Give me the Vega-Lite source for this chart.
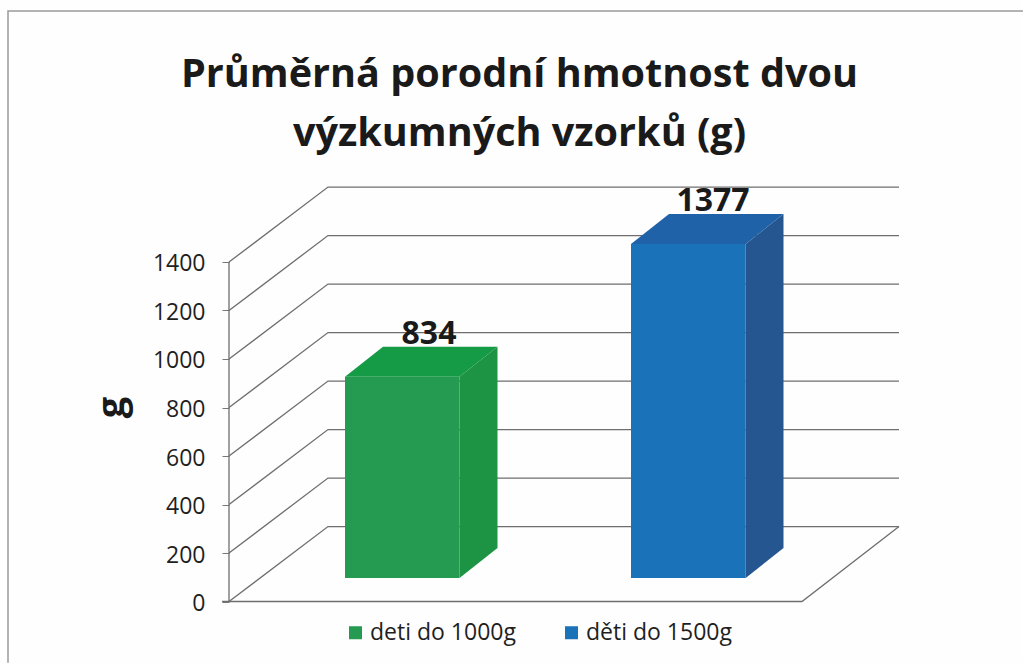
{"$schema":"https://vega.github.io/schema/vega-lite/v6.json","width":1023,"height":663,"padding":0,"autosize":{"type":"none"},"background":"#fefefe","config":{"view":{"stroke":null},"font":"Open Sans"},"title":{"text":["Průměrná porodní hmotnost dvou","výzkumných vzorků (g)"],"orient":"top","anchor":"middle","frame":"group","offset":-186,"dx":8,"fontSize":39.6,"fontWeight":"bold","font":"Open Sans","color":"#1a1a1a","lineHeight":59,"baseline":"alphabetic"},"datasets":{"frame":[{"id":"frame","x":8,"v":-253},{"id":"frame","x":8,"v":2435},{"id":"frame","x":1023,"v":2435}],"grid":[{"id":"axis","x":229,"v":0},{"id":"axis","x":229,"v":1400},{"id":"base","x":222,"v":0},{"id":"base","x":802,"v":0},{"id":"base","x":899,"v":309},{"id":"g0","x":229,"v":0},{"id":"g0","x":328,"v":309},{"id":"g0","x":899,"v":309},{"id":"g200","x":229,"v":200},{"id":"g200","x":328,"v":509},{"id":"g200","x":899,"v":509},{"id":"g400","x":229,"v":400},{"id":"g400","x":328,"v":709},{"id":"g400","x":899,"v":709},{"id":"g600","x":229,"v":600},{"id":"g600","x":328,"v":909},{"id":"g600","x":899,"v":909},{"id":"g800","x":229,"v":800},{"id":"g800","x":328,"v":1109},{"id":"g800","x":899,"v":1109},{"id":"g1000","x":229,"v":1000},{"id":"g1000","x":328,"v":1309},{"id":"g1000","x":899,"v":1309},{"id":"g1200","x":229,"v":1200},{"id":"g1200","x":328,"v":1509},{"id":"g1200","x":899,"v":1509},{"id":"g1400","x":229,"v":1400},{"id":"g1400","x":328,"v":1709},{"id":"g1400","x":899,"v":1709}],"front":[{"series":"deti do 1000g","x":345,"x2":459.5,"base":97,"top":927},{"series":"děti do 1500g","x":631,"x2":745.7,"base":97,"top":1474}],"topFace":[{"series":"deti do 1000g","x":345,"y":927,"y2":927},{"series":"deti do 1000g","x":383,"y":927,"y2":1051},{"series":"deti do 1000g","x":459.5,"y":927,"y2":1051},{"series":"deti do 1000g","x":497.5,"y":1051,"y2":1051},{"series":"děti do 1500g","x":631,"y":1474,"y2":1474},{"series":"děti do 1500g","x":669,"y":1474,"y2":1598},{"series":"děti do 1500g","x":745.7,"y":1474,"y2":1598},{"series":"děti do 1500g","x":783.5,"y":1598,"y2":1598}],"sideFace":[{"series":"deti do 1000g","x":459.5,"y":97,"y2":927},{"series":"deti do 1000g","x":497.5,"y":221,"y2":1051},{"series":"děti do 1500g","x":745.7,"y":97,"y2":1474},{"series":"děti do 1500g","x":783.5,"y":221,"y2":1598}],"labels":[{"series":"deti do 1000g","value":834,"x":429,"y":1062},{"series":"děti do 1500g","value":1377,"x":713,"y":1610}]},"encoding":{"x":{"type":"quantitative","scale":{"domain":[0,1023],"nice":false,"zero":false},"axis":null},"y":{"type":"quantitative","scale":{"domain":[-253.6,2480.4],"nice":false,"zero":false}}},"layer":[{"data":{"name":"frame"},"mark":{"type":"line","stroke":"#9a9a9a","strokeWidth":1.5,"clip":false},"encoding":{"x":{"field":"x","type":"quantitative"},"y":{"field":"v","type":"quantitative","axis":{"values":[0,200,400,600,800,1000,1200,1400],"format":"d","title":"g","titleFontSize":38,"titleFontWeight":"bold","titleColor":"#1a1a1a","titleX":-98,"titleY":407,"titleFont":"Open Sans","offset":-229,"domain":false,"grid":false,"ticks":true,"tickSize":7,"tickColor":"#777","labelFont":"Open Sans","labelFontSize":23,"labelColor":"#1f1f1f","labelPadding":17,"labelOffset":2}},"detail":{"field":"id"}}},{"data":{"name":"grid"},"mark":{"type":"line","stroke":"#6e6e6e","strokeWidth":1.3},"encoding":{"x":{"field":"x","type":"quantitative"},"y":{"field":"v","type":"quantitative"},"detail":{"field":"id"}}},{"data":{"name":"topFace"},"mark":{"type":"area"},"encoding":{"x":{"field":"x","type":"quantitative"},"y":{"field":"y","type":"quantitative"},"y2":{"field":"y2"},"detail":{"field":"series"},"color":{"condition":{"test":"datum.series==='deti do 1000g'","value":"#159a45"},"value":"#1f62a8"}}},{"data":{"name":"sideFace"},"mark":{"type":"area"},"encoding":{"x":{"field":"x","type":"quantitative"},"y":{"field":"y","type":"quantitative"},"y2":{"field":"y2"},"detail":{"field":"series"},"color":{"condition":{"test":"datum.series==='deti do 1000g'","value":"#1c9444"},"value":"#26568f"}}},{"data":{"name":"front"},"mark":{"type":"rect"},"encoding":{"x":{"field":"x","type":"quantitative"},"x2":{"field":"x2"},"y":{"field":"base","type":"quantitative"},"y2":{"field":"top"},"color":{"field":"series","type":"nominal","scale":{"domain":["deti do 1000g","děti do 1500g"],"range":["#249b50","#1a72b8"]},"legend":{"title":null,"orient":"none","legendX":344,"legendY":621,"direction":"horizontal","columns":2,"columnPadding":44,"symbolType":"square","symbolSize":169,"symbolOpacity":1,"labelFont":"Open Sans","labelFontSize":23,"labelColor":"#1f1f1f","labelOffset":3}}}},{"data":{"name":"labels"},"mark":{"type":"text","font":"Open Sans","fontWeight":"bold","fontSize":32,"color":"#1a1a1a","align":"center","baseline":"alphabetic"},"encoding":{"x":{"field":"x","type":"quantitative"},"y":{"field":"y","type":"quantitative"},"text":{"field":"value","type":"quantitative"}}}]}
